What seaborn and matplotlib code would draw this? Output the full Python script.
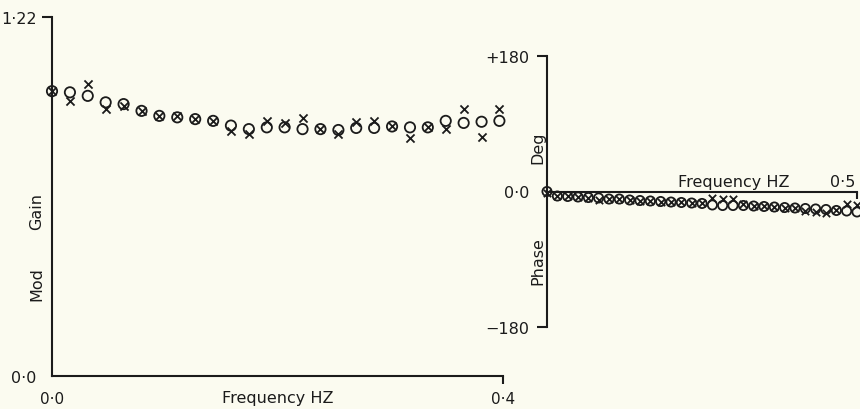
import matplotlib
matplotlib.use("Agg")
import matplotlib.pyplot as plt
import pandas as pd
import seaborn as sns

# Modulus of gain against frequency (Hz): two repeated runs, circles and crosses
gain_freq = [0.0000, 0.0159, 0.0317, 0.0476, 0.0635, 0.0794, 0.0952, 0.1111,
             0.1270, 0.1429, 0.1587, 0.1746, 0.1905, 0.2063, 0.2222, 0.2381,
             0.2540, 0.2698, 0.2857, 0.3016, 0.3175, 0.3333, 0.3492, 0.3651,
             0.3810, 0.3968]
gain_circle = [0.968, 0.964, 0.952, 0.930, 0.924, 0.901, 0.884, 0.879,
               0.873, 0.867, 0.851, 0.839, 0.845, 0.845, 0.839, 0.839,
               0.836, 0.843, 0.843, 0.848, 0.845, 0.845, 0.867, 0.860,
               0.864, 0.867]
gain_cross = [0.968, 0.935, 0.992, 0.907, 0.917, 0.900, 0.883, 0.883,
              0.873, 0.866, 0.832, 0.822, 0.867, 0.860, 0.877, 0.839,
              0.822, 0.864, 0.867, 0.848, 0.809, 0.845, 0.839, 0.907,
              0.811, 0.907]

# Phase (degrees) against frequency (Hz)
phase_freq = [0.0000, 0.0167, 0.0333, 0.0500, 0.0667, 0.0833, 0.1000, 0.1167,
              0.1333, 0.1500, 0.1667, 0.1833, 0.2000, 0.2167, 0.2333, 0.2500,
              0.2667, 0.2833, 0.3000, 0.3167, 0.3333, 0.3500, 0.3667, 0.3833,
              0.4000, 0.4167, 0.4333, 0.4500, 0.4667, 0.4833, 0.5000]
phase_circle = [0.0, -6.0, -6.6, -7.3, -8.0, -8.6, -10.0, -10.0,
                -11.3, -12.0, -12.6, -13.3, -14.0, -14.6, -15.3, -15.9,
                -17.9, -18.6, -18.6, -18.6, -19.3, -19.9, -20.6, -21.3,
                -21.9, -22.6, -23.2, -23.9, -25.2, -25.9, -27.2]
phase_cross = [-2.0, -6.0, -6.6, -7.3, -9.0, -11.0, -10.0, -10.0,
               -11.3, -12.0, -12.6, -13.3, -14.0, -14.6, -15.3, -15.9,
               -9.0, -10.0, -10.0, -16.0, -19.3, -19.9, -20.6, -21.3,
               -21.9, -26.0, -27.0, -28.0, -25.2, -17.0, -18.0]

gain_ticks = [0.0, 1.22]
gain_tick_labels = ["0·0", "1·22"]
freq_ticks = [0.0, 0.4]
freq_tick_labels = ["0·0", "0·4"]
phase_ticks = [-180, 0, 180]
phase_tick_labels = ["−180", "0·0", "+180"]

gain_df = pd.DataFrame({"freq": gain_freq, "circle": gain_circle, "cross": gain_cross})
phase_df = pd.DataFrame({"freq": phase_freq, "circle": phase_circle, "cross": phase_cross})

sns.set_theme(style="white")
plt.rcParams["font.family"] = ["DejaVu Sans"]

ink = "#1b1b1b"
paper = "#fbfbf0"
FS = 11.5

fig = plt.figure(figsize=(8.6, 4.1), dpi=100, facecolor=paper)
ax_g = fig.add_axes([52 / 860, 33 / 410, 451 / 860, 359 / 410])
ax_p = fig.add_axes([547 / 860, 82 / 410, 310 / 860, 271 / 410])


def plot_runs(ax, df, s_circle, s_cross):
    sns.scatterplot(data=df, x="freq", y="circle", marker="o", s=s_circle,
                    facecolor="none", edgecolor=ink, linewidth=1.3, ax=ax,
                    zorder=3)
    sns.scatterplot(data=df, x="freq", y="cross", marker="x", s=s_cross,
                    color=ink, linewidth=1.3, ax=ax, zorder=3)
    for coll in ax.collections:
        coll.set_clip_on(False)


for ax in (ax_g, ax_p):
    ax.set_facecolor("none")
    for side in ("top", "right"):
        ax.spines[side].set_visible(False)
    for side in ("left", "bottom"):
        ax.spines[side].set_color(ink)
        ax.spines[side].set_linewidth(1.5)

# ---- gain panel ----
plot_runs(ax_g, gain_df, 55, 34)
ax_g.set_xlim(0, 0.4)
ax_g.set_ylim(0, 1.22)
ax_g.set_xticks(freq_ticks)
ax_g.set_xticklabels(freq_tick_labels)
ax_g.set_yticks(gain_ticks)
ax_g.set_yticklabels(gain_tick_labels)
ax_g.tick_params(axis="both", direction="out", color=ink, labelcolor=ink,
                 width=1.5, labelsize=FS, bottom=True, left=True)
ax_g.tick_params(axis="y", length=7, pad=4)
ax_g.tick_params(axis="x", length=6, pad=5, labelsize=11)
ax_g.xaxis.get_major_ticks()[0].tick1line.set_visible(False)
ax_g.yaxis.get_major_ticks()[0].tick1line.set_visible(False)
ax_g.set_xlabel("")
ax_g.set_ylabel("")
ax_g.text(0.501, -0.0585, "Frequency HZ", transform=ax_g.transAxes,
          ha="center", va="center", fontsize=FS, color=ink)
ax_g.text(-0.0333, 0.259, "Mod", transform=ax_g.transAxes, rotation=90,
          ha="center", va="center", fontsize=FS, color=ink)
ax_g.text(-0.0333, 0.461, "Gain", transform=ax_g.transAxes, rotation=90,
          ha="center", va="center", fontsize=FS, color=ink)

# ---- phase panel ----
plot_runs(ax_p, phase_df, 44, 28)
ax_p.set_xlim(0, 0.5)
ax_p.set_ylim(-180, 180)
ax_p.spines["bottom"].set_position(("data", 0))
ax_p.set_xticks([0.5])
ax_p.set_xticklabels([""])
ax_p.set_yticks(phase_ticks)
ax_p.set_yticklabels(phase_tick_labels)
ax_p.tick_params(axis="both", direction="out", color=ink, labelcolor=ink,
                 width=1.5, labelsize=FS, bottom=True, left=True)
ax_p.tick_params(axis="y", length=7, pad=6)
ax_p.tick_params(axis="x", length=5)
ax_p.yaxis.get_major_ticks()[1].tick1line.set_visible(False)
ax_p.set_xlabel("")
ax_p.set_ylabel("")
ax_p.annotate("0·5", xy=(0.5, 0), xytext=(-2, 5), textcoords="offset pixels",
              ha="right", va="baseline", fontsize=FS, color=ink,
              annotation_clip=False)
ax_p.annotate("Frequency HZ", xy=(0.5, 0), xytext=(-67, 5),
              textcoords="offset pixels", ha="right", va="baseline",
              fontsize=FS, color=ink, annotation_clip=False)
ax_p.text(-0.029, 0.666, "Deg", transform=ax_p.transAxes, rotation=90,
          ha="center", va="center", fontsize=FS, color=ink)
ax_p.text(-0.029, 0.247, "Phase", transform=ax_p.transAxes, rotation=90,
          ha="center", va="center", fontsize=FS, color=ink)

fig.savefig("out.png", dpi=100, facecolor=paper)
